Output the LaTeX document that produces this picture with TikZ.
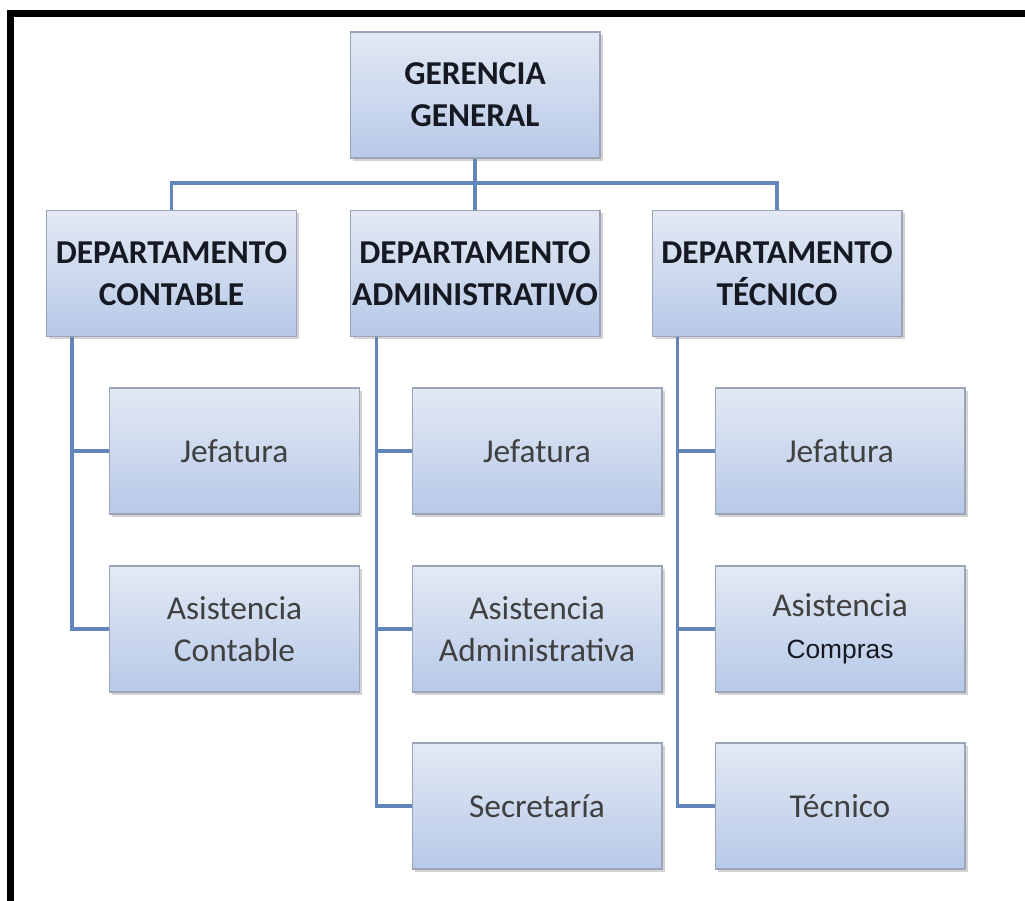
\documentclass[tikz,border=0pt]{standalone}
\usepackage{fontspec}
\setmainfont{Carlito}
\newfontfamily\arialike{Liberation Sans}
\usetikzlibrary{positioning, shadows, calc}
\definecolor{boxtop}{HTML}{E3E9F4}
\definecolor{boxbot}{HTML}{B7C9E8}
\definecolor{boxedge}{HTML}{9AA6B8}
\definecolor{linkblue}{HTML}{6285BA}
\definecolor{inkdark}{HTML}{161922}

\begin{document}
\begin{tikzpicture}[x=0.02cm, y=-0.02cm,
		caja/.style={draw=boxedge, line width=0.6pt, top color=boxtop, bottom color=boxbot,
			drop shadow={shadow xshift=1.5pt, shadow yshift=-1.5pt, opacity=0.35},
			minimum width=5cm, minimum height=2.52cm, inner sep=1pt, align=center},
		depto/.style={caja, text=inkdark, font=\fontsize{19}{24}\selectfont\bfseries},
		area/.style={caja, text=black!75, font=\fontsize{19}{24}\selectfont},
		enlace/.style={draw=linkblue, line width=2.2pt}]
		\useasboundingbox (0,0) rectangle (1025,901);
		% marco
		\draw[line width=0.14cm] (7,13.5) -- (1025,13.5);
		\draw[line width=0.14cm] (10.5,10) -- (10.5,901);
		% cajas
		\node[depto] (gg) at (475,95) {GERENCIA\\GENERAL};
		\node[depto] (dc) at (171.5,273.5) {DEPARTAMENTO\\CONTABLE};
		\node[depto] (da) at (475,273.5) {DEPARTAMENTO\\ADMINISTRATIVO};
		\node[depto] (dt) at (777,273.5) {DEPARTAMENTO\\TÉCNICO};
		\node[area] (cjef) at (234.5,451) {Jefatura};
		\node[area] (casi) at (234.5,629) {Asistencia\\Contable};
		\node[area] (ajef) at (537,451) {Jefatura};
		\node[area] (aasi) at (537,629) {Asistencia\\Administrativa};
		\node[area] (asec) at (537,806) {Secretaría};
		\node[area] (tjef) at (840,451) {Jefatura};
		\node[area] (tasi) at (840,629) {Asistencia\\{\arialike\fontsize{15}{20}\selectfont\color{inkdark}Compras}};
		\node[area] (ttec) at (840,806) {Técnico};
		% conectores
		\coordinate (bus) at (475,183);
		\draw[enlace] (gg.south) -- (da.north);
		\draw[enlace] (bus) -| (dc.north);
		\draw[enlace] (bus) -| (dt.north);
		\draw[enlace] ($(dc.south west)+(26,0)$) |- (cjef.west);
		\draw[enlace] ($(dc.south west)+(26,0)$) |- (casi.west);
		\draw[enlace] ($(da.south west)+(27,0)$) |- (ajef.west);
		\draw[enlace] ($(da.south west)+(27,0)$) |- (aasi.west);
		\draw[enlace] ($(da.south west)+(27,0)$) |- (asec.west);
		\draw[enlace] ($(dt.south west)+(26,0)$) |- (tjef.west);
		\draw[enlace] ($(dt.south west)+(26,0)$) |- (tasi.west);
		\draw[enlace] ($(dt.south west)+(26,0)$) |- (ttec.west);
	\end{tikzpicture}
\end{document}
